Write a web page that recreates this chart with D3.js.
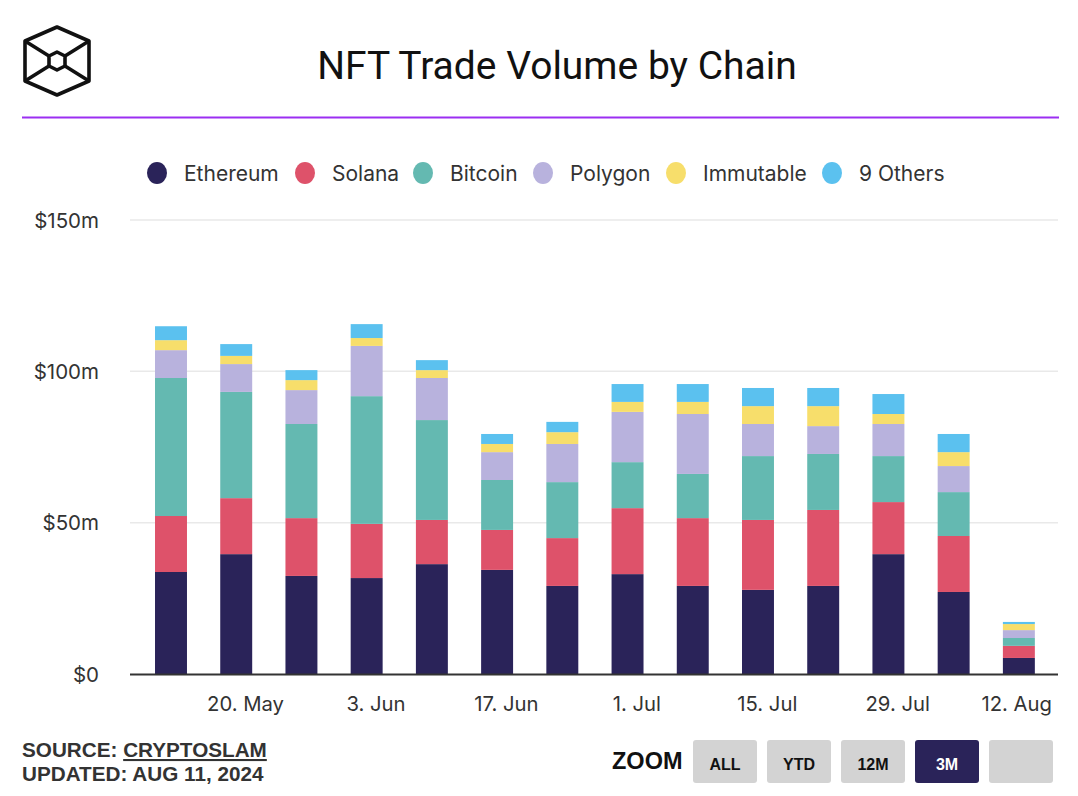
<!DOCTYPE html>
<html>
<head>
<meta charset="utf-8">
<script src="https://cdn.jsdelivr.net/npm/d3@7"></script>
<style>
  html, body { margin: 0; padding: 0; background: #fff; }
  svg { display: block; }
</style>
</head>
<body>
<svg id="chart" width="1078" height="796"></svg>
<script>
// ---- Data ----
const weeks = ["2024-05-12","2024-05-19","2024-05-26","2024-06-02","2024-06-09","2024-06-16","2024-06-23",
               "2024-06-30","2024-07-07","2024-07-14","2024-07-21","2024-07-28","2024-08-04","2024-08-11"];
const seriesNames = ["Ethereum", "Solana", "Bitcoin", "Polygon", "Immutable", "9 Others"];
const ethereum  = [33.7, 39.6, 32.4, 31.7, 36.3, 34.4, 29.1, 33.0, 29.1, 27.8, 29.1, 39.6, 27.1, 5.3];
const solana    = [18.5, 18.5, 19.1, 17.9, 14.6, 13.2, 15.8, 21.8, 22.4, 23.1, 25.1, 17.2, 18.5, 4.0];
const bitcoin   = [45.6, 35.1, 31.1, 42.2, 33.0, 16.5, 18.5, 15.2, 14.6, 21.1, 18.5, 15.2, 14.5, 2.6];
const polygon   = [ 9.2,  9.2, 11.2, 16.6, 13.9,  9.2, 12.6, 16.6, 19.8, 10.6,  9.2, 10.6,  8.6, 2.6];
const immutable = [ 3.3,  2.7,  3.3,  2.6,  2.6,  2.7,  3.9,  3.3,  4.0,  5.9,  6.6,  3.3,  4.6, 2.0];
const others    = [ 4.6,  3.9,  3.3,  4.6,  3.3,  3.3,  3.4,  5.9,  5.9,  6.0,  6.0,  6.6,  6.0, 0.7];
const yTicks = [0, 50, 100, 150];
const xTickDates = ["2024-05-20","2024-06-03","2024-06-17","2024-07-01","2024-07-15","2024-07-29","2024-08-12"];
const zoomButtons = ["ALL", "YTD", "12M", "3M", ""];
const colors = ["#2a2359", "#de526a", "#64b9b1", "#b8b2dd", "#f7de6b", "#5bc1ef"];

// ---- Build ----
const parse = d3.utcParse("%Y-%m-%d");
const seriesVals = [ethereum, solana, bitcoin, polygon, immutable, others];
const rows = weeks.map((w, i) => {
  const r = { date: parse(w) };
  seriesNames.forEach((s, k) => r[s] = seriesVals[k][i]);
  return r;
});
const stack = d3.stack().keys(seriesNames)(rows);

const svg = d3.select("#chart");
const plot = { left: 130, right: 1058, top: 220, bottom: 674 };
const DAY = 864e5;
const first = parse(weeks[0]), last = parse(weeks[weeks.length - 1]);
const x = d3.scaleUtc()
  .domain([new Date(+first - 4.4 * DAY), new Date(+last + 4.2 * DAY)])
  .range([plot.left, plot.right]);
const y = d3.scaleLinear().domain([0, 150]).range([plot.bottom, plot.top]);
const barW = (x(parse(weeks[1])) - x(parse(weeks[0]))) * 0.49;

const font = "Inter, 'Open Sans', sans-serif";

// Logo
const logo = svg.append("g").attr("transform", "translate(57,61)")
  .attr("fill", "none").attr("stroke", "#111").attr("stroke-width", 3.6).attr("stroke-linejoin", "round");
logo.append("path").attr("d", "M" + [[0,-34],[32,-20],[32,20],[0,34],[-32,20],[-32,-20]].join("L") + "Z");
const inner = [[0,-9],[8,-5],[8,5],[0,9],[-8,5],[-8,-5]];
logo.append("path").attr("d", "M" + inner.join("L") + "Z");
logo.append("path").attr("d", "M-32,-20L-8,-5M32,-20L8,-5M-32,20L-8,5M32,20L8,5");

// Title
svg.append("text").attr("x", 557).attr("y", 79).attr("text-anchor", "middle")
  .attr("font-family", "Roboto, sans-serif").attr("font-size", 39).attr("fill", "#111")
  .text("NFT Trade Volume by Chain");

// Purple rule
svg.append("line").attr("x1", 22).attr("x2", 1059).attr("y1", 117.5).attr("y2", 117.5)
  .attr("stroke", "#9b2ff2").attr("stroke-width", 2);

// Legend
const legendX = [157, 305, 423, 543, 676, 832];
const lg = svg.append("g");
seriesNames.forEach((s, i) => {
  lg.append("ellipse").attr("cx", legendX[i]).attr("cy", 173).attr("rx", 10).attr("ry", 11).attr("fill", colors[i]);
  lg.append("text").attr("x", legendX[i] + 27).attr("y", 180.5).attr("font-family", font)
    .attr("font-size", 21).attr("fill", "#333").text(s);
});

// Gridlines & y labels
const gy = svg.append("g");
yTicks.forEach(t => {
  if (t > 0) gy.append("line").attr("x1", plot.left).attr("x2", plot.right)
    .attr("y1", y(t)).attr("y2", y(t)).attr("stroke", "#e9e9e9").attr("stroke-width", 1.5);
  gy.append("text").attr("x", 99).attr("y", y(t) + 7.5).attr("text-anchor", "end")
    .attr("font-family", font).attr("font-size", 20.5).attr("fill", "#333")
    .text(t === 0 ? "$0" : "$" + t + "m");
});

// Bars
stack.forEach((layer, k) => {
  svg.append("g").attr("fill", colors[k]).selectAll("rect").data(layer).join("rect")
    .attr("x", d => x(d.data.date) - barW / 2)
    .attr("width", barW)
    .attr("y", d => y(d[1]))
    .attr("height", d => y(d[0]) - y(d[1]));
});

// X axis line
svg.append("line").attr("x1", plot.left).attr("x2", plot.right).attr("y1", plot.bottom + 0.5).attr("y2", plot.bottom + 0.5)
  .attr("stroke", "#333").attr("stroke-width", 2);

// X tick labels
const fmt = d3.utcFormat("%-d. %b");
xTickDates.forEach(ds => {
  const d = parse(ds);
  let px = x(d);
  const t = svg.append("text").attr("y", 711).attr("font-family", font).attr("font-size", 20.3)
    .attr("fill", "#333").attr("text-anchor", "middle").text(fmt(d));
  const w = t.node().getComputedTextLength();
  if (px + w / 2 > 1052) px = 1052 - w / 2;
  t.attr("x", px);
});

// Footer
const foot = "'Liberation Sans', Arial, Helvetica, sans-serif";
const src = svg.append("text").attr("x", 22).attr("y", 757).attr("font-family", foot)
  .attr("font-size", 20.7).attr("font-weight", "bold").attr("fill", "#333");
src.append("tspan").text("SOURCE: ");
src.append("tspan").attr("text-decoration", "underline").text("CRYPTOSLAM");
svg.append("text").attr("x", 22).attr("y", 781).attr("font-family", foot)
  .attr("font-size", 20.7).attr("font-weight", "bold").attr("fill", "#333").text("UPDATED: AUG 11, 2024");

// Zoom buttons
svg.append("text").attr("x", 612).attr("y", 769).attr("font-family", foot)
  .attr("font-size", 23.5).attr("font-weight", "bold").attr("fill", "#111").text("ZOOM");
zoomButtons.forEach((b, i) => {
  const bx = 693 + i * 74;
  const active = b === "3M";
  svg.append("rect").attr("x", bx).attr("y", 740).attr("width", 64).attr("height", 43).attr("rx", 3)
    .attr("fill", active ? "#2a2359" : "#d3d3d3");
  svg.append("text").attr("x", bx + 32).attr("y", 770).attr("text-anchor", "middle")
    .attr("font-family", foot).attr("font-size", 16).attr("font-weight", "bold")
    .attr("fill", active ? "#fff" : "#111").text(b);
});
</script>
</body>
</html>
